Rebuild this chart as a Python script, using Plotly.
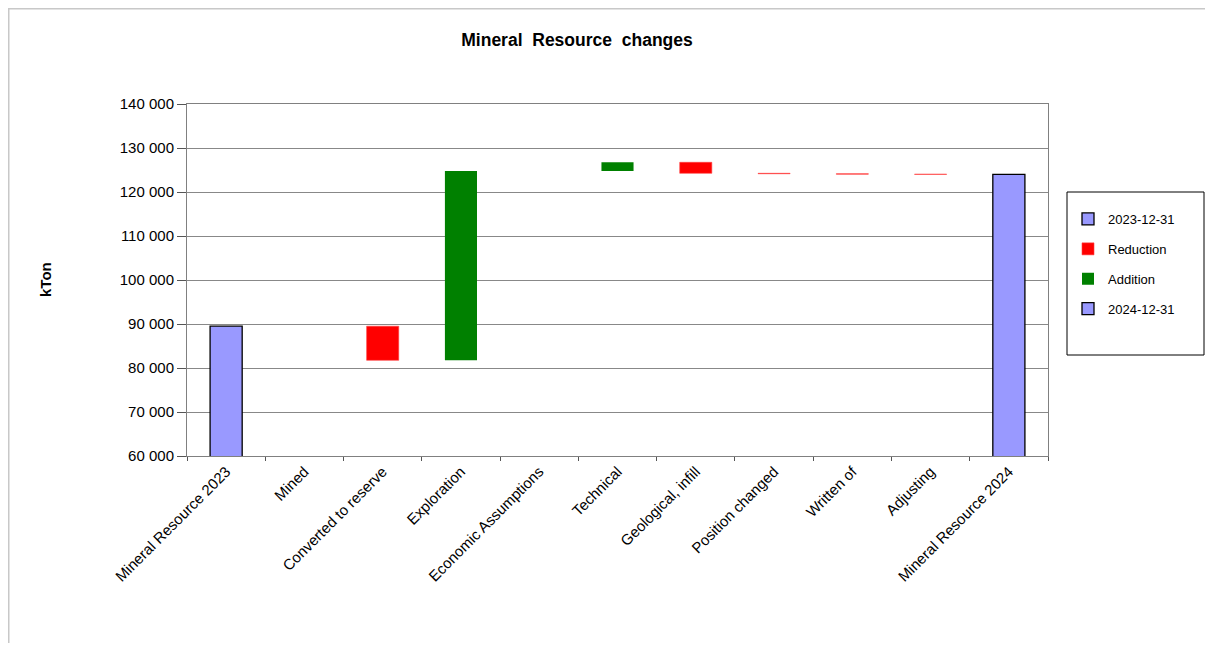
import plotly.graph_objects as go

categories = ["Mineral Resource 2023", "Mined", "Converted to reserve", "Exploration",
              "Economic Assumptions", "Technical", "Geological, infill", "Position changed",
              "Written of", "Adjusting", "Mineral Resource 2024"]
start_value = 89500
changes = [0, -7750, 43050, 0, 1950, -2500, -100, -100, -50]  # Mined .. Adjusting
end_value = 124000
y_ticks = [60000, 70000, 80000, 90000, 100000, 110000, 120000, 130000, 140000]

# build waterfall pieces (floating bars: base + height)
red_base, red, add_base, add = [None], [None], [None], [None]
level = start_value
for c in changes:
    if c < 0:
        red_base.append(level + c); red.append(-c); add_base.append(None); add.append(None)
    elif c > 0:
        add_base.append(level); add.append(c); red_base.append(None); red.append(None)
    else:
        red_base.append(None); red.append(None); add_base.append(None); add.append(None)
    level += c
red_base.append(None); red.append(None); add_base.append(None); add.append(None)

v2023 = [start_value] + [None] * (len(categories) - 1)
v2024 = [None] * (len(categories) - 1) + [end_value]
zero_base = [0] * len(categories)

# page offset: the page body has an 8px margin
OFF = 8
W, H = 1213 - 2 * OFF, 651 - 2 * OFF
L, T, R, B = 187 - OFF, 104 - OFF, 1048 - OFF, 456 - OFF
PW, PH = R - L, B - T


def px(xp):
    return (xp - OFF - L) / PW


def py(yp):
    return 1 - (yp - OFF - T) / PH


fig = go.Figure()
fig.add_bar(x=categories, y=v2023, base=zero_base, name="2023-12-31",
            marker=dict(color="#9999ff", line=dict(color="#000000", width=1.3)), legendgroup="a")
fig.add_bar(x=categories, y=red, base=red_base, name="Reduction",
            marker=dict(color="#ff0000", line=dict(color="#ff4040", width=0.6)), legendgroup="b")
fig.add_bar(x=categories, y=add, base=add_base, name="Addition",
            marker=dict(color="#008000", line=dict(width=0)), legendgroup="c")
fig.add_bar(x=categories, y=v2024, base=zero_base, name="2024-12-31",
            marker=dict(color="#9999ff", line=dict(color="#000000", width=1.3)), legendgroup="d")

fig.update_layout(
    barmode="overlay",
    bargap=0.59,
    width=W, height=H,
    paper_bgcolor="white", plot_bgcolor="white",
    margin=dict(l=L, r=W - R, t=T, b=H - B),
    separators=", ",
    font=dict(family="Liberation Sans, Arial", size=13, color="#000000"),
    title=dict(text="<b>Mineral  Resource  changes</b>", x=(577 - OFF) / W, xanchor="center",
               y=1 - (40 - OFF) / H, yanchor="middle", font=dict(size=17.5)),
    legend=dict(x=px(1068), xanchor="left", y=py(204), yanchor="top",
                bgcolor="rgba(0,0,0,0)", borderwidth=0, tracegroupgap=10,
                font=dict(size=13), itemwidth=30),
    showlegend=True,
    shapes=[
        dict(type="rect", xref="paper", yref="paper",
             x0=px(1067), x1=px(1204), y0=py(355), y1=py(192),
             line=dict(color="#000000", width=1), fillcolor="rgba(0,0,0,0)", layer="below"),
        dict(type="line", xref="paper", yref="paper",
             x0=px(OFF + 0.5), x1=px(OFF + 0.5), y0=py(651), y1=py(OFF),
             line=dict(color="#c8c8c8", width=2)),
        dict(type="line", xref="paper", yref="paper",
             x0=px(OFF), x1=px(1213), y0=py(OFF + 0.5), y1=py(OFF + 0.5),
             line=dict(color="#c8c8c8", width=2)),
    ],
    annotations=[
        dict(text="<b>kTon</b>", x=px(45), y=0.5, xref="paper", yref="paper",
             textangle=-90, showarrow=False, font=dict(size=15), xanchor="center", yanchor="middle"),
    ],
)
fig.update_yaxes(range=[60000, 140000], tickvals=y_ticks, tickformat=",d",
                 showgrid=True, gridcolor="#888888", gridwidth=1,
                 showline=True, linecolor="#808080", linewidth=1, mirror=True,
                 ticks="outside", ticklen=9, tickcolor="#555555", zeroline=False,
                 tickfont=dict(size=15))
fig.update_xaxes(tickangle=-45, showline=True, linecolor="#808080", linewidth=1, mirror=True,
                 ticks="outside", ticklen=4, tickcolor="#555555", tickson="boundaries",
                 showgrid=False, tickfont=dict(size=15))

fig.write_html("out.html")
